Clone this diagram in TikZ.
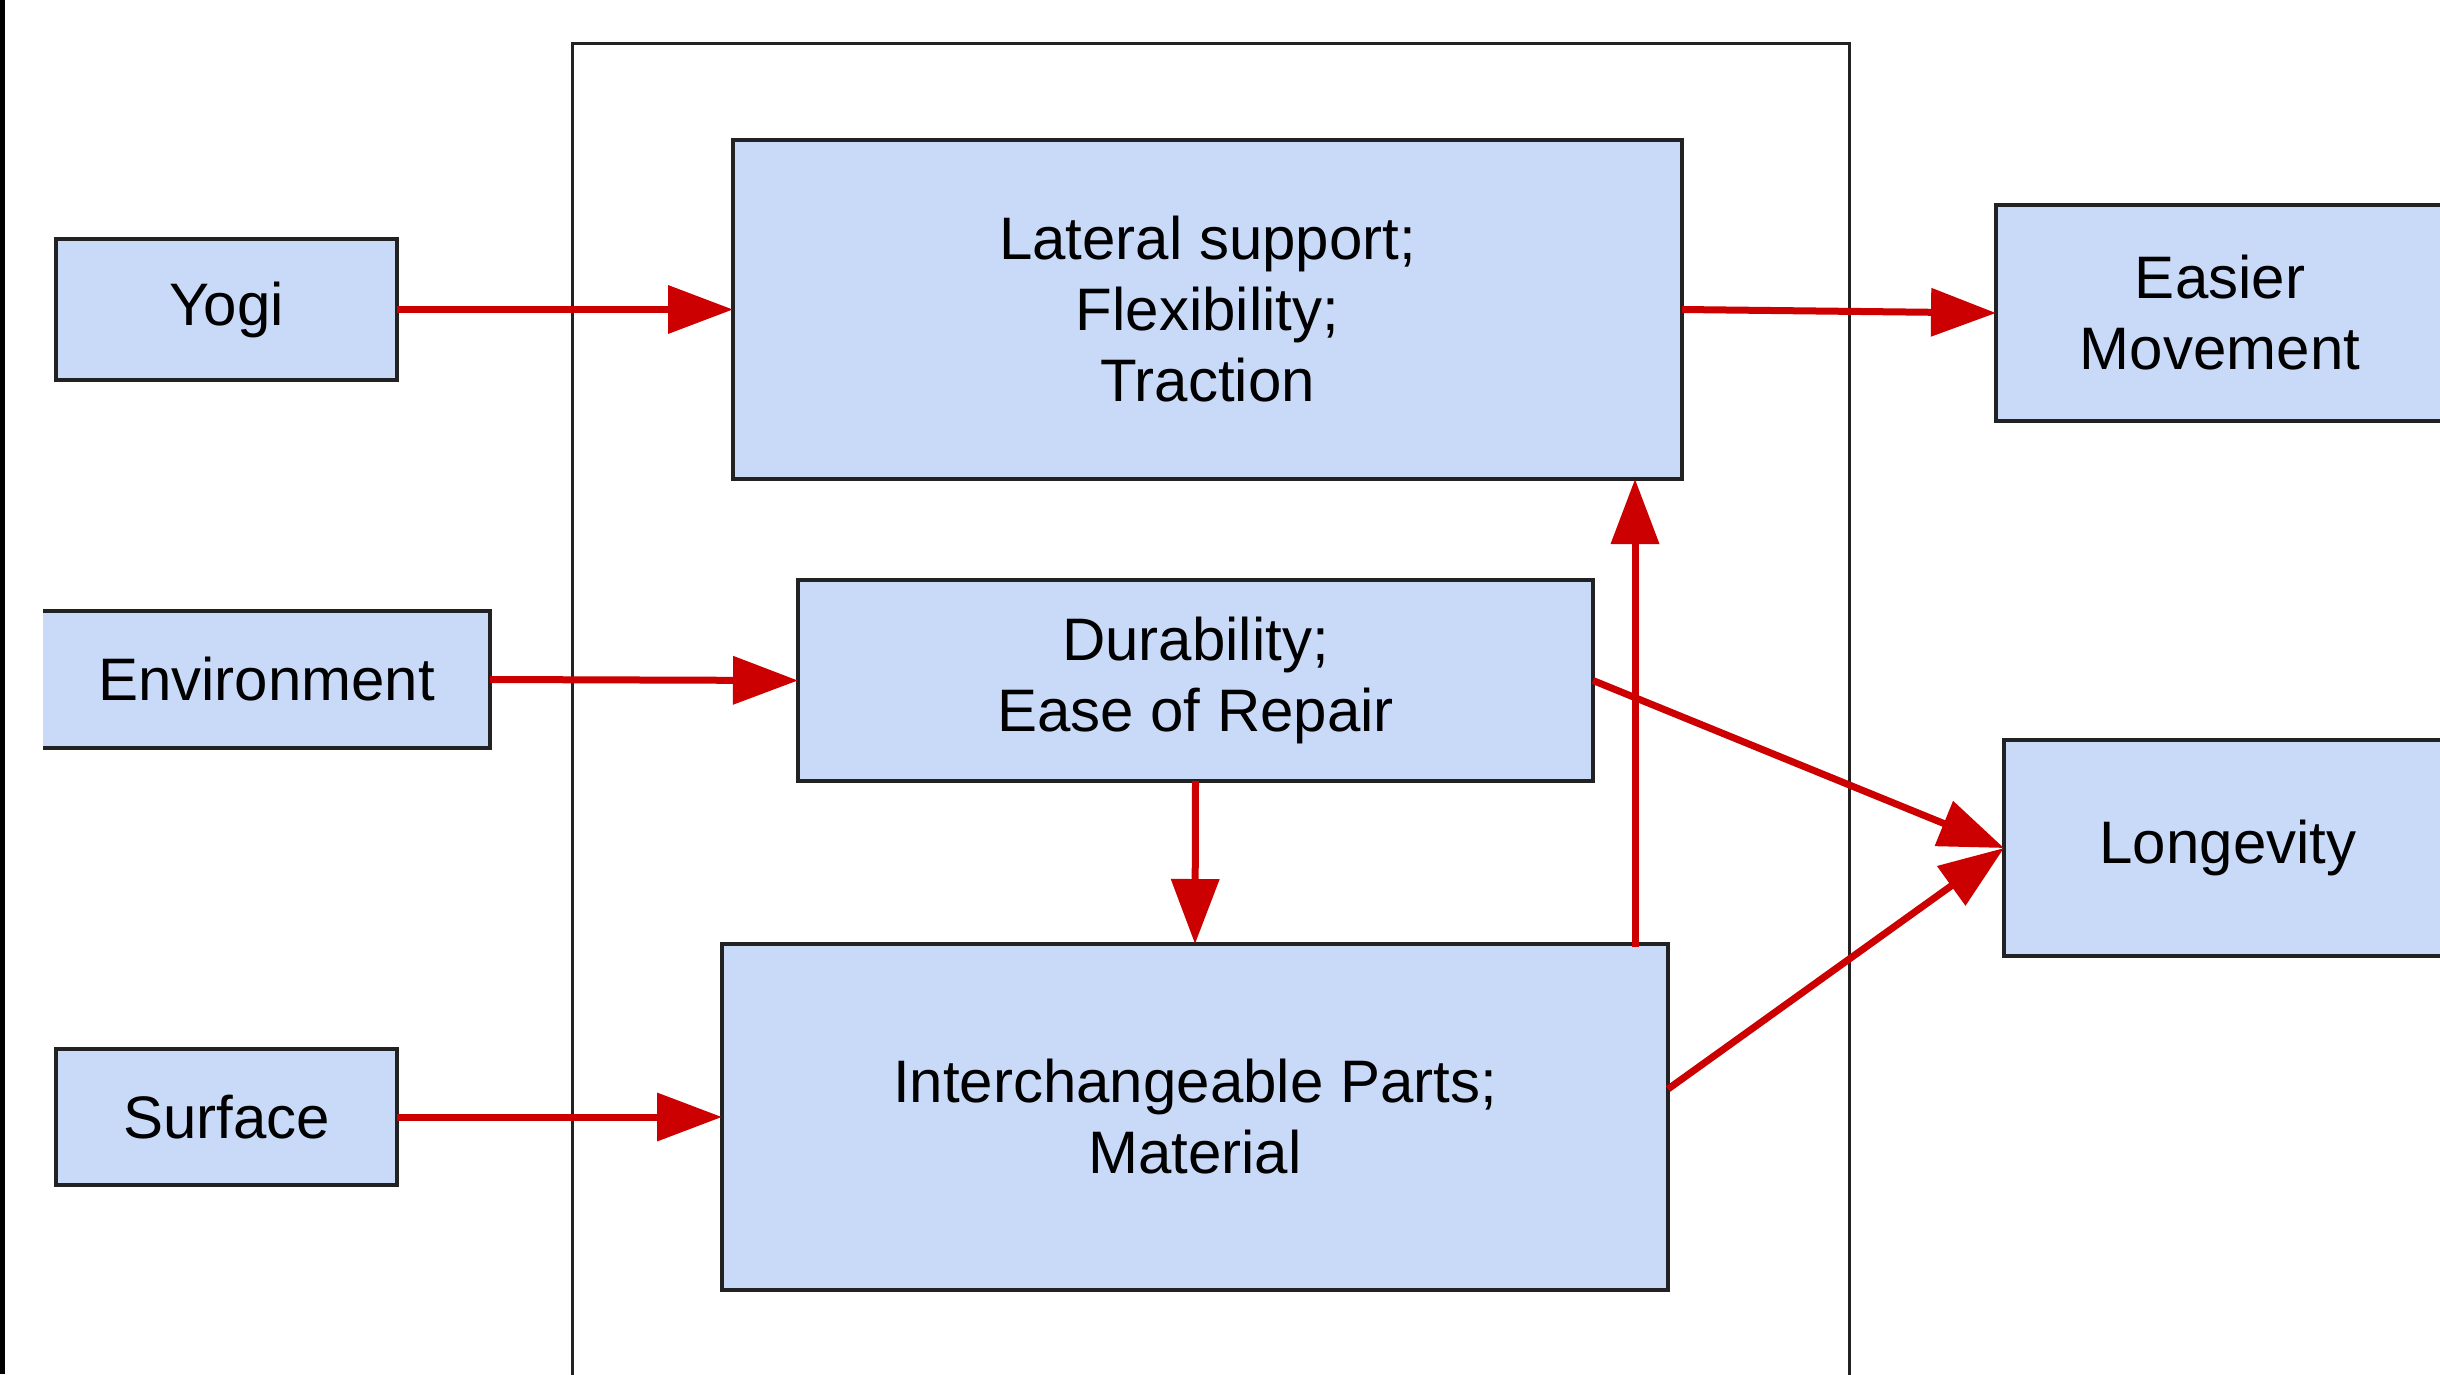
\documentclass[tikz,border=0pt]{standalone}
\usepackage{fontspec}
\setmainfont{Liberation Sans}
\usetikzlibrary{arrows.meta,calc}
\definecolor{boxfill}{HTML}{C9DAF8}
\definecolor{arrred}{HTML}{CC0000}
\definecolor{edgecol}{HTML}{222222}
\begin{document}
\begin{tikzpicture}[x=1pt,y=-1pt,
  box/.style={draw=edgecol, line width=3.5pt, fill=boxfill, inner sep=0pt, outer sep=0pt, align=center, font=\fontsize{60}{71}\selectfont},
  arr/.style={draw=arrred, line width=7pt, -{Triangle[length=65pt,width=47pt]}}]
\useasboundingbox (0,0) rectangle (2440,1374);
\begin{scope}
\clip (0,0) rectangle (2440,1374);
\fill[white] (0,0) rectangle (2440,1374);
\fill[black] (0,0) rectangle (5,1374);
\draw[edgecol, line width=3pt] (572,1400) -- (572,43) -- (1849,43) -- (1849,1400);

\node[box, minimum width=341pt, minimum height=141pt] (yogi) at (226.5,309.5) {Yogi};
\node[box, draw=none, minimum width=447pt, minimum height=137pt] (env) at (266.5,679.5) {Environment};
\draw[edgecol, line width=3.5pt] (env.north west) -- (env.north east) -- (env.south east) -- (env.south west);
\node[box, minimum width=341pt, minimum height=136pt] (surf) at (226.5,1117) {Surface};

\node[box, minimum width=949pt, minimum height=339pt] (lat) at (1207.5,309.5) {Lateral support;\\Flexibility;\\Traction};
\node[box, minimum width=795pt, minimum height=201pt] (dur) at (1195.5,680.5) {Durability;\\Ease of Repair};
\node[box, minimum width=946pt, minimum height=346pt] (inter) at (1195,1117) {Interchangeable Parts;\\Material};

\node[box, minimum width=448pt, minimum height=216pt] (easy) at (2220,313) {Easier\\Movement};
\node[box, minimum width=448pt, minimum height=216pt] (long) at (2228,848) {Longevity};

\coordinate (upS) at (1635,947);
\coordinate (iL) at (1668,1089);

\draw[arr] (yogi.east) -- (lat.west);
\draw[arr] (env.east) -- (dur.west);
\draw[arr] (surf.east) -- (inter.west);
\draw[arr] (lat.east) -- (easy.west);
\draw[arr] (dur.south) -- (inter.north);
\draw[arr] (upS) -- (upS |- lat.south);
\draw[arr] (dur.east) -- (long.west);
\draw[arr] (iL) -- (long.west);
\end{scope}
\end{tikzpicture}
\end{document}
